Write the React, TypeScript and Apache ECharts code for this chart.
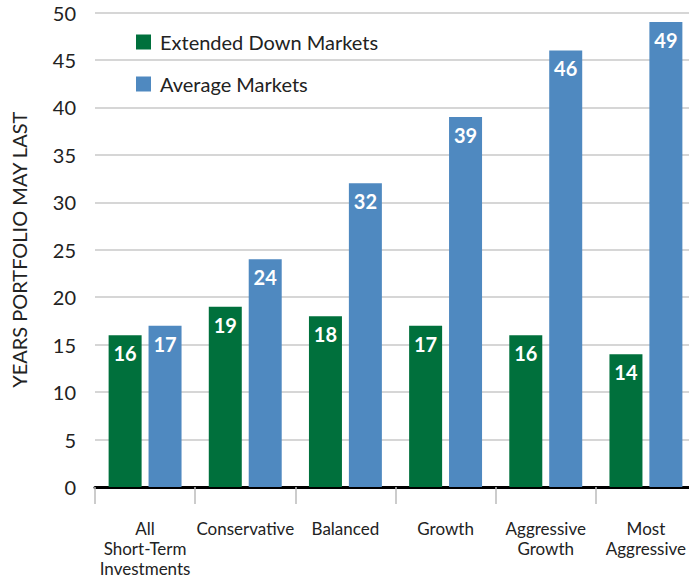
import React, { useEffect, useRef } from "react";
import * as echarts from "echarts";

const categories = ["All\nShort-Term\nInvestments", "Conservative", "Balanced", "Growth", "Aggressive\nGrowth", "Most\nAggressive"];
const extendedDown = [16, 19, 18, 17, 16, 14];
const average = [17, 24, 32, 39, 46, 49];
const seriesNames = ["Extended Down Markets", "Average Markets"];

export default function App() {
  const ref = useRef<HTMLDivElement>(null);
  useEffect(() => {
    const chart = echarts.init(ref.current!, null, { renderer: "svg" });
    const font = "Lato, 'Noto Sans', sans-serif";
    const label = {
      show: true,
      position: "insideTop",
      distance: 8,
      color: "#fff",
      fontWeight: "bold",
      fontSize: 20,
      fontFamily: font,
    };
    chart.setOption({
      animation: false,
      textStyle: { fontFamily: font },
      legend: {
        orient: "vertical",
        left: 131,
        top: 27,
        itemWidth: 15,
        itemHeight: 15,
        itemGap: 22,
        icon: "rect",
        textStyle: { fontSize: 20, color: "#222", fontFamily: font, padding: [0, 0, 0, 4] },
        data: seriesNames,
      },
      grid: { left: 95, right: 4, top: 12.5, bottom: 89, containLabel: false },
      xAxis: {
        type: "category",
        data: categories,
        axisLine: { show: true, lineStyle: { color: "#000", width: 3 } },
        axisTick: { show: true, length: 17, lineStyle: { color: "#bbb", width: 1.5 } },
        axisLabel: { margin: 31, fontSize: 17, color: "#222", lineHeight: 20, fontFamily: font, interval: 0 },
      },
      yAxis: {
        type: "value",
        min: 0,
        max: 50,
        interval: 5,
        name: "YEARS PORTFOLIO MAY LAST",
        nameLocation: "middle",
        nameGap: 66,
        nameTextStyle: { fontSize: 20, color: "#222", fontFamily: font },
        axisLine: { show: false },
        axisTick: { show: false },
        axisLabel: { margin: 19, fontSize: 20, color: "#222", fontFamily: font },
        splitLine: { lineStyle: { color: "#c8c8c8", width: 1.5 } },
      },
      series: [
        {
          name: seriesNames[0],
          type: "bar",
          data: extendedDown,
          barWidth: 33,
          barGap: "21%",
          itemStyle: { color: "#00703C" },
          label,
        },
        {
          name: seriesNames[1],
          type: "bar",
          data: average,
          barWidth: 33,
          itemStyle: { color: "#4F89C0" },
          label,
        },
      ],
    });
    return () => chart.dispose();
  }, []);
  return (
    <div style={{ width: 689, height: 578, position: "absolute", left: 0, top: 0, overflow: "hidden" }}>
      <div ref={ref} style={{ width: 700, height: 578 }} />
    </div>
  );
}
